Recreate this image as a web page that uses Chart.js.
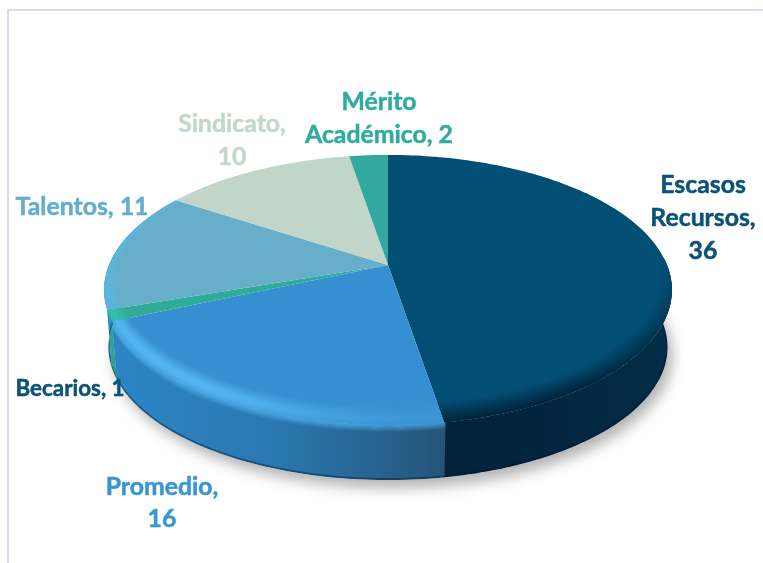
<!DOCTYPE html>
<html><head><meta charset="utf-8">
<style>
html,body{margin:0;padding:0;background:#fff;width:763px;height:563px;overflow:hidden}
#wrap{position:relative;width:763px;height:563px}
#frame{position:absolute;left:7px;top:9px;right:-4px;bottom:-4px;border:2px solid #D9D9F3;pointer-events:none}
canvas{position:absolute;left:0;top:0}
</style>
<script src="https://cdn.jsdelivr.net/npm/chart.js@4/dist/chart.umd.js"></script>
</head><body>
<div id="wrap"><div id="frame"></div><canvas id="c" width="763" height="563"></canvas></div>
<script>
const categories = ['Escasos Recursos','Promedio','Becarios','Talentos','Sindicato','Mérito Académico'];
const values = [36,16,1,11,10,2];
const faceColors = ['#034E73','#358FD0','#2FAB9A','#67AECB','#C1D6C9','#33A89E'];
const labelColors = ['#0A5278','#3A95D4','#0A5278','#62AECC','#C2D8CB','#2FAC9E'];
const wallStops = [['#032C46','#02213A'],['#2D85C5','#2A78B0','#245478'],['#2AA596','#2AA596'],['#2E88C8','#2E88C8'],['#9DB3A6','#9DB3A6'],['#2A8A82','#2A8A82']];
const bevelColors = ['#01233A','#55B6F2','#34C0AE','#5CB6DE','#C1D6C9','#33A89E'];
const labelLayout = [
 {x:703,y:185,lh:33,size:24.8,wrap:115},
 {x:162,y:487,lh:32,size:24.8,wrap:125},
 {x:70,y:389,lh:30,size:22.4,wrap:200},
 {x:82,y:207,lh:32,size:24.8,wrap:200},
 {x:232,y:124,lh:33,size:24.8,wrap:120},
 {x:379,y:102,lh:33,size:24.8,wrap:170}
];
const K=0.185, BX=279/250, BY=130.4/250, DEPTH=58, WALLSCALE=0.985;
function proj(el,r,th,dy){
  const ux=r*Math.cos(th), uy=r*Math.sin(th), w=1/(1-K*uy);
  return [el.x+el.outerRadius*BX*ux*w, el.y+el.outerRadius*BY*uy*w+(dy||0)];
}
function hexRgb(h){return [1,3,5].map(i=>parseInt(h.substr(i,2),16));}
function mix(a,b,t){const A=hexRgb(a),B=hexRgb(b);return 'rgb('+A.map((v,i)=>Math.round(v+(B[i]-v)*t)).join(',')+')';}
const sstep=(a,b,x)=>{const t=Math.min(1,Math.max(0,(x-a)/(b-a)));return t*t*(3-2*t);};
function bevelStrength(i,th){
  const s=Math.sin(th);
  if(i===0) return Math.min(1,Math.max(0,s*1.25));
  if(i===1) return 0.2+0.8*sstep(Math.PI*0.45,Math.PI*0.72,th);
  if(i===2||i===3) return 1;
  return 0;
}
function bevelWidth(th){return 0.03+0.075*Math.max(0,Math.sin(th));}
function bevelProfile(i,p){
  if(i===0) return p;
  return Math.min(1,p*1.7)*(1-0.45*Math.max(0,(p-0.8)/0.2));
}
class Arc3D extends Chart.ArcElement{
  static id='arc3d';
  static defaults=Chart.ArcElement.defaults;
  static defaultRoutes=Chart.ArcElement.defaultRoutes;
  wall(ctx,i){
    const a=Math.max(this.startAngle,-0.05)-0.004, b=Math.min(this.endAngle,Math.PI+0.3);
    if(b<=a) return;
    const n=Math.ceil((b-a)/0.02), top=[], bot=[];
    for(let j=0;j<=n;j++){
      const th=a+(b-a)*j/n;
      top.push(proj(this,1,th));
      bot.push(proj(this,WALLSCALE,th,DEPTH));
    }
    const xs=top.concat(bot).map(p=>p[0]);
    const g=ctx.createLinearGradient(Math.max(...xs),0,Math.min(...xs),0);
    const ordered=i===0?[...wallStops[i]]:[...wallStops[i]].reverse();
    ordered.forEach((c,k)=>g.addColorStop(k/(ordered.length-1),c));
    ctx.beginPath();
    top.forEach((p,k)=>k?ctx.lineTo(p[0],p[1]):ctx.moveTo(p[0],p[1]));
    bot.slice().reverse().forEach(p=>ctx.lineTo(p[0],p[1]));
    ctx.closePath();
    ctx.fillStyle=g;ctx.fill();
    ctx.save();ctx.clip();
    if(i===1){
      // soft blend from the bevel highlight into the wall
      const rgb=hexRgb(bevelColors[i]).join(',');
      ctx.lineWidth=1.6;
      for(let k=0;k<7;k++){
        ctx.beginPath();
        top.forEach((p,q)=>q?ctx.lineTo(p[0],p[1]+k):ctx.moveTo(p[0],p[1]+k));
        ctx.strokeStyle='rgba('+rgb+','+(0.55*(1-k/7))+')';ctx.stroke();
      }
    }
    ctx.beginPath();
    bot.forEach((p,k)=>k?ctx.lineTo(p[0],p[1]-1):ctx.moveTo(p[0],p[1]-1));
    ctx.strokeStyle='rgba(0,20,40,0.4)';ctx.lineWidth=2;ctx.stroke();
    ctx.restore();
  }
  draw(ctx){
    const i=this.$context.dataIndex, a=this.startAngle, b=this.endAngle;
    const n=Math.ceil((b-a)/0.02);
    ctx.save();
    ctx.beginPath();
    ctx.moveTo(this.x,this.y);
    for(let j=0;j<=n;j++){const p=proj(this,1,a+(b-a)*j/n);ctx.lineTo(p[0],p[1]);}
    ctx.closePath();
    ctx.fillStyle=faceColors[i];ctx.fill();
    ctx.clip();
    const bands=10, dth=0.025;
    for(let th=a;th<b;th+=dth){
      const th2=Math.min(b,th+dth*1.2), mid=th+dth/2, s=bevelStrength(i,mid), w=bevelWidth(mid);
      if(s<=0) continue;
      for(let k=0;k<bands;k++){
        const r1=1-w*(1-k/bands), r2=1-w*(1-(k+1.3)/bands);
        const c=mix(faceColors[i],bevelColors[i],s*bevelProfile(i,(k+0.5)/bands));
        const P=[proj(this,r1,th),proj(this,r1,th2),proj(this,Math.min(1.01,r2),th2),proj(this,Math.min(1.01,r2),th)];
        ctx.beginPath();ctx.moveTo(P[0][0],P[0][1]);P.slice(1).forEach(p=>ctx.lineTo(p[0],p[1]));ctx.closePath();
        ctx.fillStyle=c;ctx.fill();
      }
    }
    ctx.restore();
  }
}
class Pie3D extends Chart.PieController{
  static id='pie3d';
  static defaults={...Chart.PieController.defaults,dataElementType:'arc3d'};
  static overrides=Chart.PieController.overrides;
  draw(){
    const ctx=this.chart.ctx, els=this.getMeta().data;
    if(!els.length) return;
    const e=els[0], n=180;
    ctx.save();
    ctx.shadowColor='rgba(0,0,0,0.3)';ctx.shadowBlur=14;ctx.shadowOffsetX=5;ctx.shadowOffsetY=8;
    ctx.beginPath();
    for(let j=0;j<=n;j++){const p=proj(e,WALLSCALE,j/n*2*Math.PI,DEPTH);j?ctx.lineTo(p[0],p[1]):ctx.moveTo(p[0],p[1]);}
    ctx.closePath();ctx.fillStyle='#fff';ctx.fill();
    ctx.restore();
    els.forEach((el,i)=>el.wall(ctx,i));
    super.draw();
  }
}
Chart.register(Arc3D,Pie3D);
const labelPlugin={id:'sliceLabels',afterDatasetsDraw(chart){
  const ctx=chart.ctx;
  ctx.save();ctx.textAlign='center';ctx.textBaseline='middle';ctx.lineJoin='round';
  categories.forEach((cat,i)=>{
    const L=labelLayout[i];
    ctx.font='700 '+L.size+'px Lato';
    ctx.fillStyle=labelColors[i];ctx.strokeStyle=labelColors[i];ctx.lineWidth=0.5;
    const words=(cat+', '+values[i]).split(' '), lines=[];let cur='';
    words.forEach(w=>{const t=cur?cur+' '+w:w;if(ctx.measureText(t).width>L.wrap&&cur){lines.push(cur);cur=w;}else cur=t;});
    lines.push(cur);
    lines.forEach((s,k)=>{ctx.fillText(s,L.x,L.y+k*L.lh);ctx.strokeText(s,L.x,L.y+k*L.lh);});
  });
  ctx.restore();
}};
new Chart(document.getElementById('c'),{
  type:'pie3d',
  data:{labels:categories,datasets:[{data:values,backgroundColor:faceColors,borderWidth:0}]},
  options:{responsive:false,animation:false,
    layout:{padding:{left:138,right:125,top:15,bottom:48}},
    plugins:{legend:{display:false},tooltip:{enabled:false},title:{display:false}}},
  plugins:[labelPlugin]
});
</script>
</body></html>
